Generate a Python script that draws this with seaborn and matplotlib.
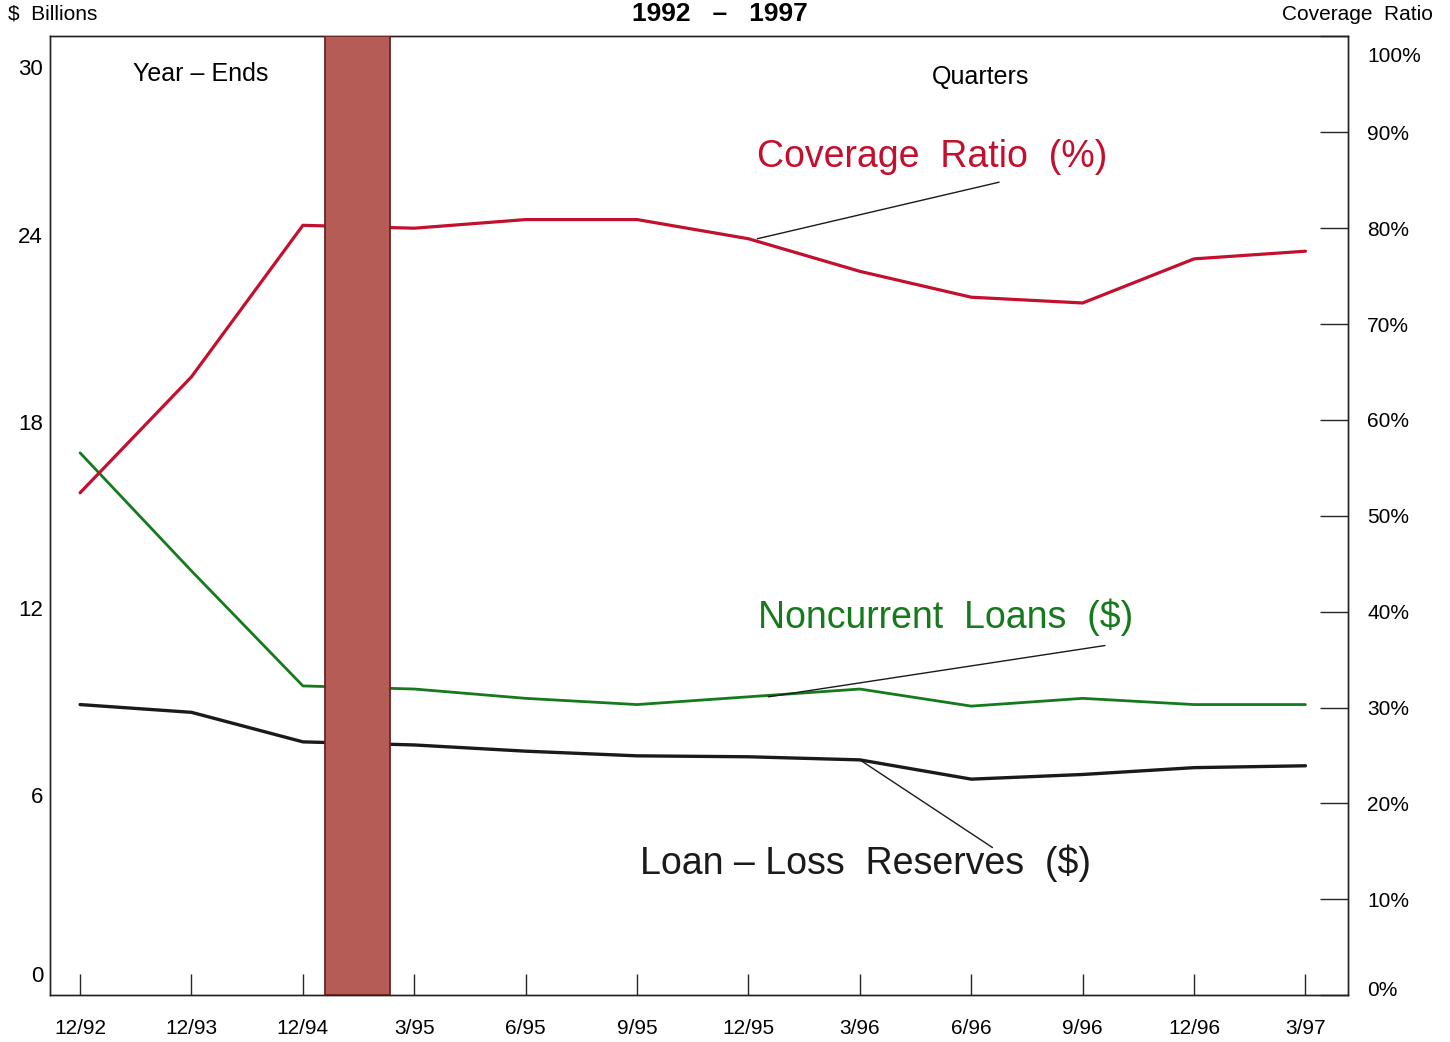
import matplotlib
matplotlib.use("Agg")
import matplotlib.pyplot as plt
import matplotlib.transforms as mtransforms
import seaborn as sns
import pandas as pd

# Data
periods = ["12/92", "12/93", "12/94", "3/95", "6/95", "9/95", "12/95",
           "3/96", "6/96", "9/96", "12/96", "3/97"]
coverage_ratio = [52.4, 64.5, 80.3, 80.0, 80.9, 80.9, 78.9, 75.5, 72.8, 72.2, 76.8, 77.6]
noncurrent_loans = [17.0, 13.2, 9.5, 9.4, 9.1, 8.9, 9.15, 9.4, 8.85, 9.1, 8.9, 8.9]
loan_loss_reserves = [8.9, 8.65, 7.7, 7.6, 7.4, 7.25, 7.22, 7.12, 6.5, 6.65, 6.87, 6.93]
left_ticks = [0, 6, 12, 18, 24, 30]
right_ticks = [0, 10, 20, 30, 40, 50, 60, 70, 80, 90, 100]

df = pd.DataFrame({
    "pos": range(len(periods)),
    "period": periods,
    "coverage": coverage_ratio,
    "noncurrent": noncurrent_loans,
    "reserves": loan_loss_reserves,
})

sns.set_style("white")
plt.rcParams["font.family"] = ["Liberation Sans", "DejaVu Sans"]
plt.rcParams["text.color"] = "black"

RED = "#c3102e"
GREEN = "#157a1c"
BLACK = "#1a1a1a"

fig = plt.figure(figsize=(14.5, 10.42), dpi=100)
ax = fig.add_axes([0.0345, 0.045, 0.895, 0.92])
ax2 = ax.twinx()

sns.lineplot(data=df, x="pos", y="noncurrent", color=GREEN, linewidth=2.0, ax=ax, sort=False)
sns.lineplot(data=df, x="pos", y="reserves", color=BLACK, linewidth=2.4, ax=ax, sort=False)
sns.lineplot(data=df, x="pos", y="coverage", color=RED, linewidth=2.3, ax=ax2, sort=False)

ax.set_xlim(-0.27, 11.38)
ax.set_ylim(-0.45, 30.4)
ax2.set_ylim(0, 100)

# shaded break between year-ends and quarters
ax2.axvspan(2.2, 2.78, facecolor="#b55c57", edgecolor="#6a2320", linewidth=1.3, zorder=5)

ax.set_xticks(df["pos"])
ax.set_xticklabels(periods, fontsize=15, color="black")
ax.tick_params(axis="x", direction="in", length=15, width=1, pad=17, bottom=True)
ax.set_yticks(left_ticks)
ax.set_yticklabels([str(t) for t in left_ticks], fontsize=16, color="black")
ax.tick_params(axis="y", length=0, pad=5, left=True)

ax2.set_yticks(right_ticks)
ax2.set_yticklabels([f"{t}%" for t in right_ticks], fontsize=15, color="black")
ax2.tick_params(axis="y", direction="in", length=20, width=1, pad=14, right=True)

# end labels sit a bit inside the frame in the original
down = mtransforms.ScaledTranslation(0, -18 / 100, fig.dpi_scale_trans)
up = mtransforms.ScaledTranslation(0, 7 / 100, fig.dpi_scale_trans)
lbl = ax.get_yticklabels()[-1]
lbl.set_transform(lbl.get_transform() + down)
lbl = ax2.get_yticklabels()[-1]
lbl.set_transform(lbl.get_transform() + down)
lbl = ax.get_yticklabels()[0]
lbl.set_transform(lbl.get_transform() + up)
lbl = ax2.get_yticklabels()[0]
lbl.set_transform(lbl.get_transform() + up)

ax.set_xlabel("")
ax.set_ylabel("")
ax2.set_ylabel("")
for a in (ax, ax2):
    for s in a.spines.values():
        s.set_color("#222222")
        s.set_linewidth(1.0)

# section labels
ax.text(1.08, 29.2, "Year \u2013 Ends", fontsize=18, ha="center", va="center")
ax.text(8.08, 29.1, "Quarters", fontsize=18, ha="center", va="center")

# series labels with leader lines
ax2.text(7.65, 87.4, "Coverage  Ratio  (%)", fontsize=27, color=RED, ha="center", va="center")
ax2.plot([8.25, 6.08], [84.8, 78.9], color=BLACK, linewidth=1)

ax.text(7.77, 11.7, "Noncurrent  Loans  ($)", fontsize=27, color=GREEN, ha="center", va="center")
ax.plot([9.2, 6.18], [10.8, 9.15], color=BLACK, linewidth=1)

ax.text(7.05, 3.8, "Loan \u2013 Loss  Reserves  ($)", fontsize=27, color=BLACK, ha="center", va="center")
ax.plot([8.19, 7.0], [4.3, 7.12], color=BLACK, linewidth=1)

# header texts
fig.text(8 / 1450, 1 - 14 / 1042, "$  Billions", fontsize=15, ha="left", va="center")
fig.text(1433 / 1450, 1 - 15 / 1042, "Coverage  Ratio", fontsize=15, ha="right", va="center")
fig.text(720 / 1450, 1 - 14 / 1042, "1992   \u2013   1997", fontsize=19, fontweight="bold",
         ha="center", va="center")

fig.savefig("out.png", dpi=100)
